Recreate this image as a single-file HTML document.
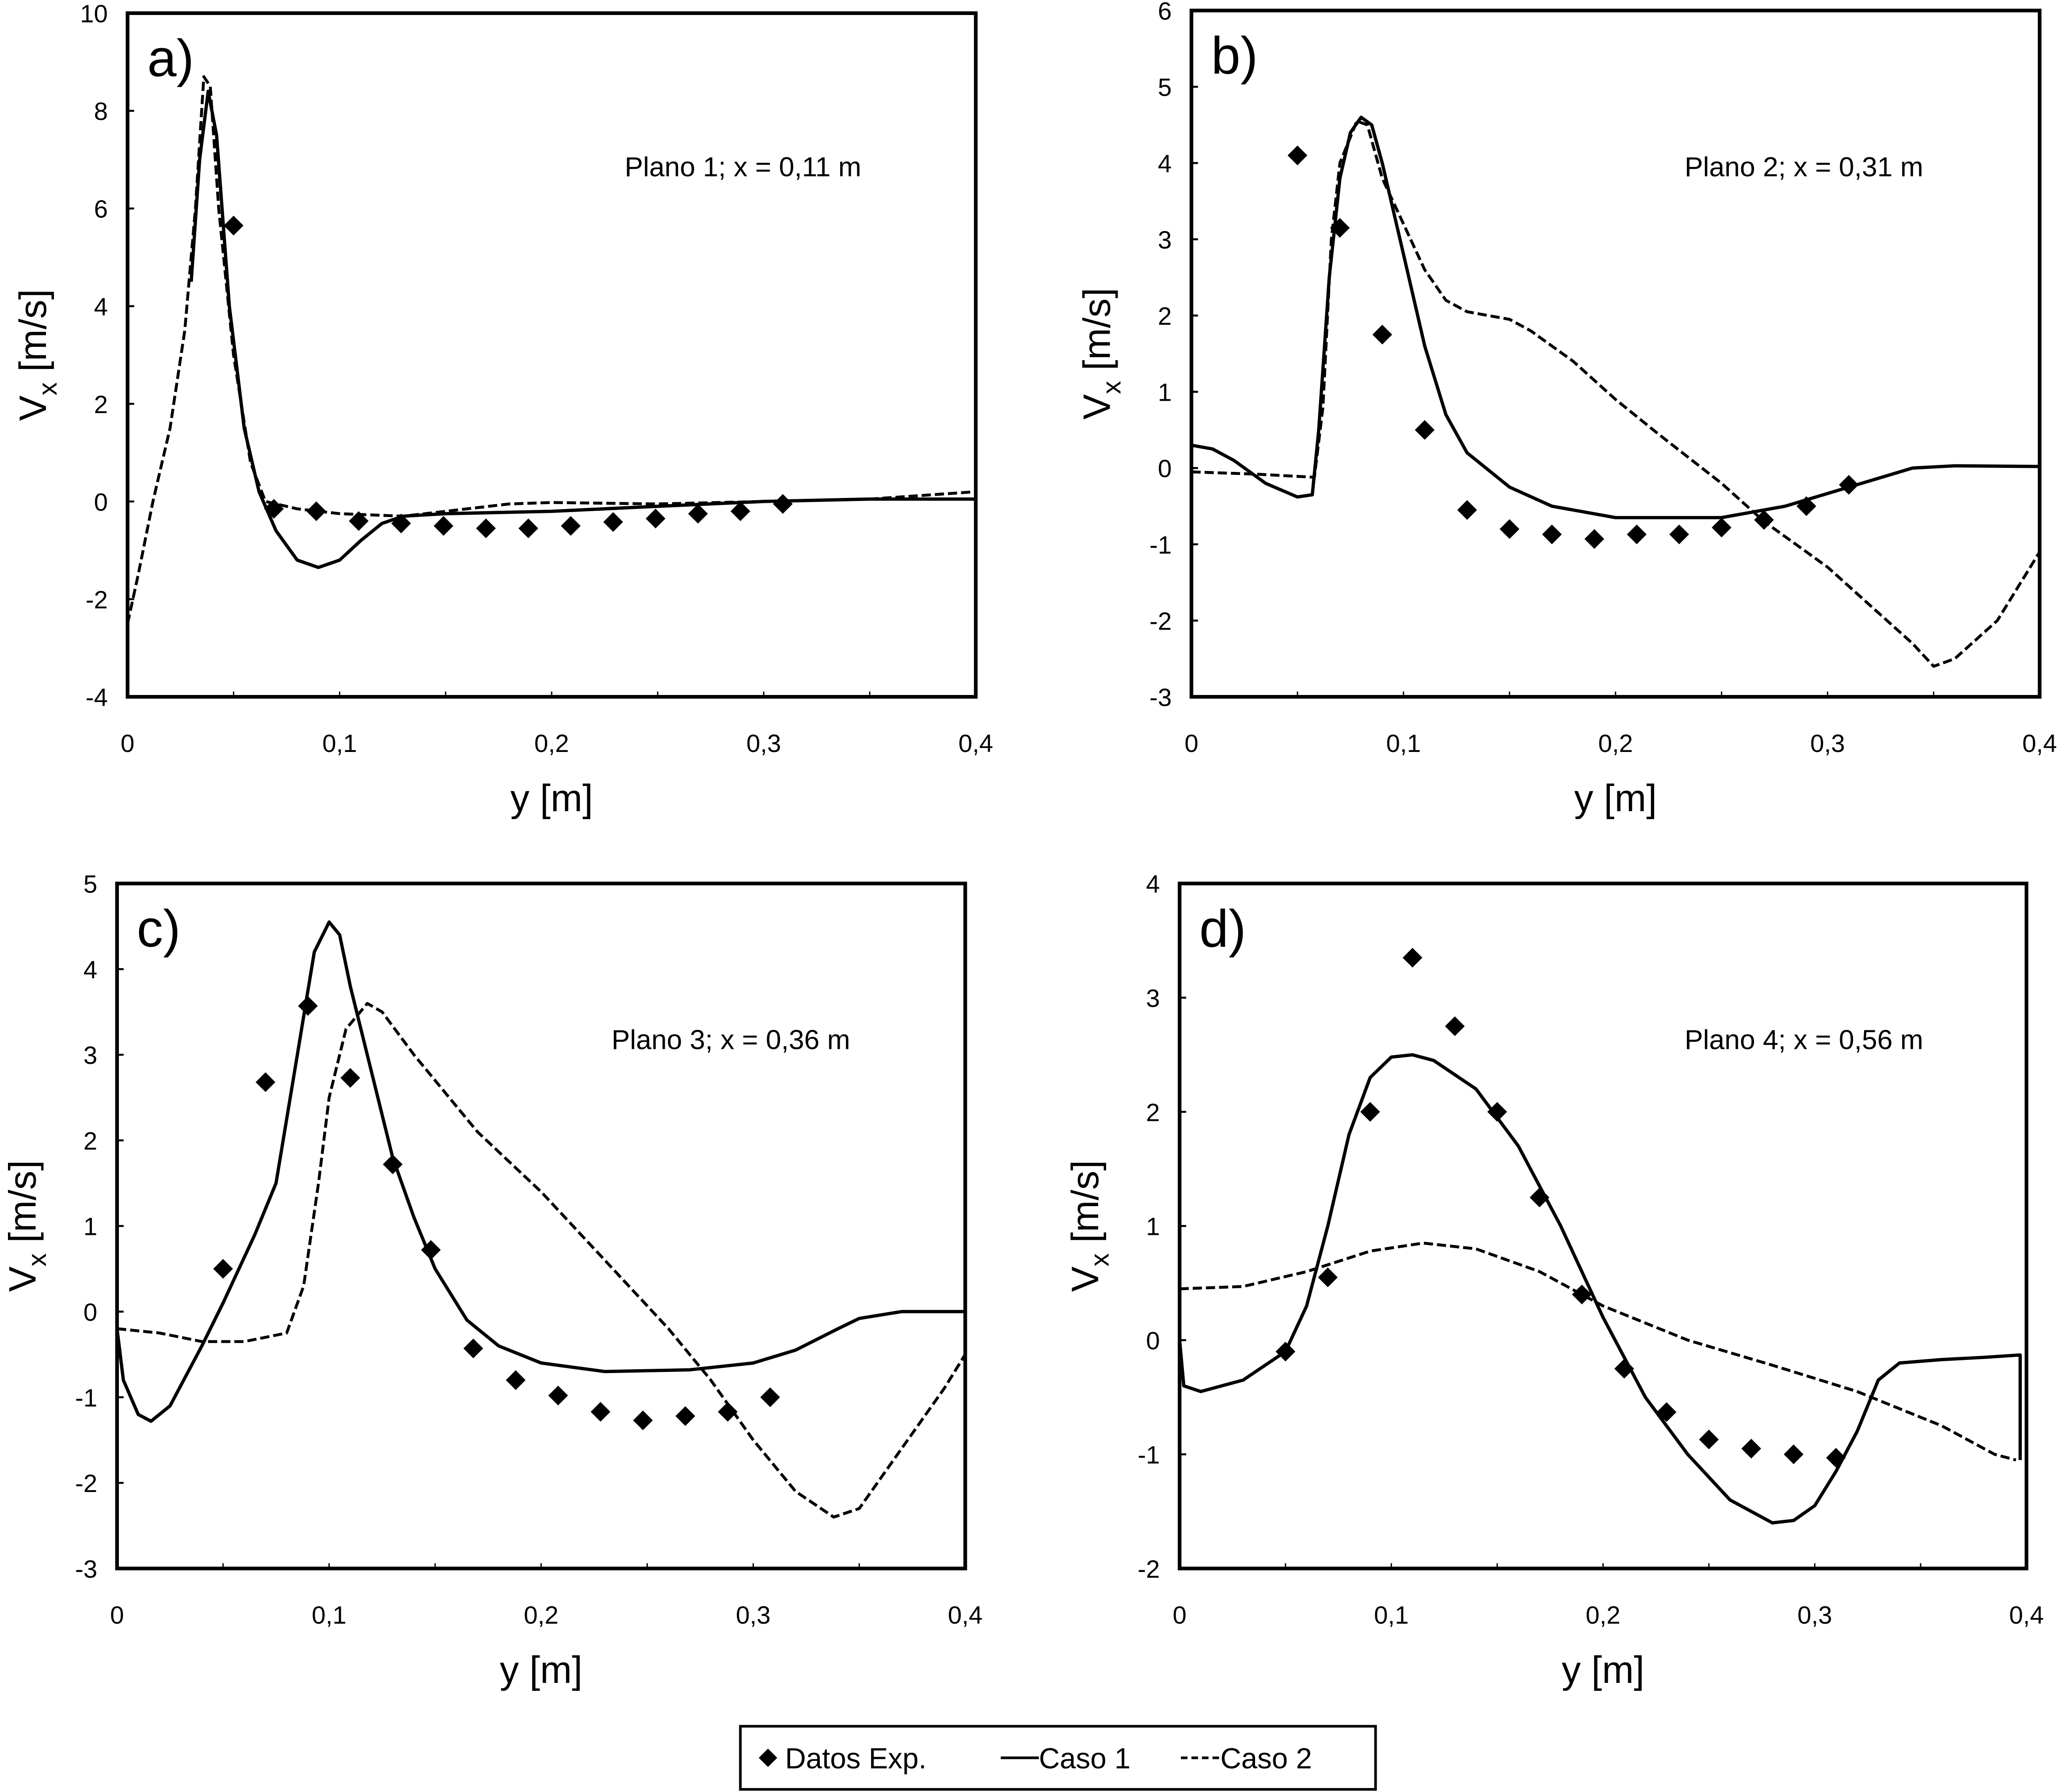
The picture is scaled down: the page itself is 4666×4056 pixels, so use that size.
<!DOCTYPE html>
<html><head><meta charset="utf-8"><style>
html,body{margin:0;padding:0;background:#fff}
svg{display:block}
text{font-family:"Liberation Sans",sans-serif;fill:#000}
</style></head><body>
<svg id="fig" xmlns="http://www.w3.org/2000/svg" width="4666" height="4056" viewBox="0 0 1568 1363">
<rect width="1568" height="1363" fill="#fff"/>
</svg>
<script>
// ---- Panel a data ----
const aExpY=[0.05,0.069,0.089,0.109,0.129,0.149,0.169,0.189,0.209,0.229,0.249,0.269,0.289,0.309];
const aExpV=[5.65,-0.15,-0.2,-0.4,-0.45,-0.5,-0.55,-0.55,-0.5,-0.42,-0.35,-0.25,-0.2,-0.05];
const aC1Y=[0.03,0.034,0.038,0.042,0.048,0.055,0.062,0.07,0.08,0.09,0.1,0.11,0.12,0.13,0.15,0.2,0.25,0.3,0.35,0.4];
const aC1V=[4.5,7,8.4,7.5,4,1.5,0.2,-0.6,-1.2,-1.35,-1.2,-0.8,-0.45,-0.3,-0.25,-0.2,-0.1,0,0.05,0.05];
const aC2Y=[0,0.005,0.012,0.02,0.027,0.032,0.036,0.039,0.043,0.05,0.058,0.065,0.08,0.1,0.13,0.15,0.18,0.2,0.25,0.3,0.35,0.4];
const aC2V=[-2.5,-1.5,0,1.5,3.5,6,8.7,8.5,6,3,0.8,0,-0.15,-0.25,-0.3,-0.2,-0.05,-0.02,-0.05,0,0.05,0.2];
const aTicks=[-4,-2,0,2,4,6,8,10];
// ---- Panel b data ----
const bExpY=[0.05,0.07,0.09,0.11,0.13,0.15,0.17,0.19,0.21,0.23,0.25,0.27,0.29,0.31];
const bExpV=[4.1,3.15,1.75,0.5,-0.55,-0.8,-0.87,-0.93,-0.87,-0.87,-0.78,-0.68,-0.5,-0.22];
const bC1Y=[0,0.01,0.02,0.035,0.05,0.057,0.06,0.065,0.07,0.075,0.08,0.085,0.09,0.1,0.11,0.12,0.13,0.15,0.17,0.2,0.25,0.28,0.31,0.34,0.36,0.4];
const bC1V=[0.3,0.25,0.1,-0.2,-0.38,-0.35,0.5,2.5,3.8,4.4,4.6,4.5,4,2.8,1.6,0.7,0.2,-0.25,-0.5,-0.65,-0.65,-0.5,-0.25,0,0.03,0.02];
const bC2Y=[0,0.03,0.058,0.062,0.066,0.07,0.078,0.083,0.09,0.1,0.11,0.12,0.13,0.15,0.16,0.18,0.2,0.22,0.25,0.27,0.3,0.32,0.34,0.35,0.36,0.38,0.4];
const bC2V=[-0.05,-0.08,-0.12,0.8,3,4,4.55,4.5,3.8,3.2,2.6,2.2,2.05,1.95,1.8,1.4,0.9,0.45,-0.2,-0.7,-1.3,-1.8,-2.3,-2.6,-2.5,-2,-1.1];
const bTicks=[-3,-2,-1,0,1,2,3,4,5,6];
// ---- Panel c data ----
const cExpY=[0.05,0.07,0.09,0.11,0.13,0.148,0.168,0.188,0.208,0.228,0.248,0.268,0.288,0.308];
const cExpV=[0.5,2.68,3.57,2.73,1.72,0.72,-0.43,-0.8,-0.98,-1.17,-1.27,-1.22,-1.17,-1.0];
const cC1Y=[0,0.003,0.01,0.016,0.025,0.04,0.05,0.065,0.075,0.085,0.093,0.1,0.105,0.11,0.12,0.13,0.14,0.15,0.165,0.18,0.2,0.23,0.27,0.3,0.32,0.34,0.35,0.37,0.4];
const cC1V=[-0.2,-0.8,-1.2,-1.28,-1.1,-0.4,0.1,0.9,1.5,3,4.2,4.55,4.4,3.8,2.8,1.8,1.1,0.5,-0.1,-0.4,-0.6,-0.7,-0.68,-0.6,-0.45,-0.2,-0.08,0,0];
const cC2Y=[0,0.02,0.04,0.06,0.08,0.088,0.095,0.1,0.108,0.118,0.125,0.14,0.17,0.2,0.23,0.26,0.28,0.3,0.32,0.338,0.35,0.37,0.39,0.4];
const cC2V=[-0.2,-0.25,-0.35,-0.35,-0.25,0.3,1.5,2.5,3.3,3.6,3.5,3.0,2.1,1.4,0.6,-0.2,-0.8,-1.5,-2.1,-2.4,-2.3,-1.6,-0.9,-0.5];
const cTicks=[-3,-2,-1,0,1,2,3,4,5];
// ---- Panel d data ----
const dExpY=[0.05,0.07,0.09,0.11,0.13,0.15,0.17,0.19,0.21,0.23,0.25,0.27,0.29,0.31];
const dExpV=[-0.1,0.55,2.0,3.35,2.75,2.0,1.25,0.4,-0.25,-0.63,-0.87,-0.95,-1.0,-1.03];
const dC1Y=[0,0.002,0.01,0.03,0.05,0.06,0.07,0.08,0.09,0.1,0.11,0.12,0.14,0.16,0.18,0.2,0.22,0.24,0.26,0.28,0.29,0.3,0.31,0.32,0.33,0.34,0.36,0.38,0.397,0.397];
const dC1V=[0,-0.4,-0.45,-0.35,-0.1,0.3,1.0,1.8,2.3,2.48,2.5,2.45,2.2,1.7,1.0,0.2,-0.5,-1.0,-1.4,-1.6,-1.58,-1.45,-1.15,-0.8,-0.35,-0.2,-0.17,-0.15,-0.13,-1.05];
const dC2Y=[0,0.03,0.06,0.09,0.115,0.14,0.17,0.2,0.24,0.28,0.32,0.36,0.385,0.395];
const dC2V=[0.45,0.47,0.6,0.78,0.85,0.8,0.6,0.3,0,-0.22,-0.45,-0.75,-1.0,-1.05];
const dTicks=[-2,-1,0,1,2,3,4];
const xTicks=[0,0.1,0.2,0.3,0.4];
const xTickLabels=["0","0,1","0,2","0,3","0,4"];

const NS="http://www.w3.org/2000/svg";
const svg=document.getElementById('fig');
function mk(tag,attrs,parent,txt){const e=document.createElementNS(NS,tag);for(const k in attrs)e.setAttribute(k,attrs[k]);if(txt!==undefined)e.textContent=txt;(parent||svg).appendChild(e);return e;}

function panel(cfg){
  const g=mk('g',{});
  
  
  const L=cfg.L,R=cfg.R,T=cfg.T,B=cfg.B;
  const sx=y=>L+(y-0)/(0.4)*(R-L);
  const sy=v=>B-(v-cfg.vmin)/(cfg.vmax-cfg.vmin)*(B-T);
  cfg.ticks.forEach(t=>{
    const tk=mk('line',{x1:L,x2:L+5,y1:sy(t),y2:sy(t),stroke:'#000','stroke-width':1.5},g);
    
    
    const lb=mk('text',{x:L-15,y:sy(t)+7,'text-anchor':'end','font-size':19},g,String(t));
    
    
  });
  for(let i=0;i<=8;i++){
    const x=sx(i*0.05);
    const tk=mk('line',{x1:x,x2:x,y1:B,y2:B-4,stroke:'#000','stroke-width':1},g);
    
    
  }
  xTicks.forEach((t,i)=>{
    const lb=mk('text',{x:sx(t),y:B+42,'text-anchor':'middle','font-size':19},g,xTickLabels[i]);
    
    
  });
  const clipId='clip'+cfg.id;
  const cp=mk('clipPath',{id:clipId},g);mk('rect',{x:L,y:T,width:R-L,height:B-T},cp);
  const pts=(Y,V)=>Y.map((y,i)=>sx(y).toFixed(1)+','+sy(V[i]).toFixed(1)).join(' ');
  const c2=mk('polyline',{points:pts(cfg.c2y,cfg.c2v),fill:'none',stroke:'#000','stroke-width':2.2,'stroke-dasharray':'7,3','stroke-linejoin':'round','clip-path':'url(#'+clipId+')'},g);
  
  
  const c1=mk('polyline',{points:pts(cfg.c1y,cfg.c1v),fill:'none',stroke:'#000','stroke-width':2.5,'stroke-linejoin':'round','clip-path':'url(#'+clipId+')'},g);
  
  
  cfg.ey.forEach((y,i)=>{
    const x=sx(y),yy=sy(cfg.ev[i]),s=7.5;
    const d=mk('polygon',{points:`${x},${yy-s} ${x+s},${yy} ${x},${yy+s} ${x-s},${yy}`,fill:'#000'},g);
    
    
  });
  const fr=mk('rect',{x:L,y:T,width:R-L,height:B-T,fill:'none',stroke:'#000','stroke-width':2.8},g);
  
  
  const pl=mk('text',{x:L+15,y:T+48,'font-size':40},g,cfg.id+')');
  
  
  const pn=mk('text',{x:cfg.planX,y:cfg.planY,'font-size':21},g,cfg.plano);
  
  
  const xt=mk('text',{x:(L+R)/2,y:B+87,'text-anchor':'middle','font-size':29},g,'y [m]');
  
  
  const cy=(T+B)/2;
  const yt=mk('text',{x:0,y:0,'font-size':29,transform:`translate(${L-62},${cy}) rotate(-90)`,'text-anchor':'middle'},g);
  
  
  mk('tspan',{},yt,'V');
  mk('tspan',{'font-size':20,dy:8},yt,'x');
  mk('tspan',{dy:-8},yt,' [m/s]');
}
panel({id:'a',L:97,R:742,T:10,B:530,vmin:-4,vmax:10,ticks:aTicks,ey:aExpY,ev:aExpV,c1y:aC1Y,c1v:aC1V,c2y:aC2Y,c2v:aC2V,plano:'Plano 1; x = 0,11 m',planX:475,planY:134});
panel({id:'b',L:906,R:1551,T:8,B:530,vmin:-3,vmax:6,ticks:bTicks,ey:bExpY,ev:bExpV,c1y:bC1Y,c1v:bC1V,c2y:bC2Y,c2v:bC2V,plano:'Plano 2; x = 0,31 m',planX:1281,planY:134});
panel({id:'c',L:89,R:734,T:672,B:1193,vmin:-3,vmax:5,ticks:cTicks,ey:cExpY,ev:cExpV,c1y:cC1Y,c1v:cC1V,c2y:cC2Y,c2v:cC2V,plano:'Plano 3; x = 0,36 m',planX:465,planY:798});
panel({id:'d',L:897,R:1541,T:672,B:1193,vmin:-2,vmax:4,ticks:dTicks,ey:dExpY,ev:dExpV,c1y:dC1Y,c1v:dC1V,c2y:dC2Y,c2v:dC2V,plano:'Plano 4; x = 0,56 m',planX:1281,planY:798});

const lg=mk('g',{});


mk('rect',{x:563,y:1313,width:483,height:48,fill:'#fff',stroke:'#000','stroke-width':2},lg);
const e1=mk('g',{},lg);


mk('polygon',{points:'584,1330 591,1337 584,1344 577,1337',fill:'#000'},e1);
mk('text',{x:597,y:1345,'font-size':22},e1,'Datos Exp.');
const e2=mk('g',{},lg);


mk('line',{x1:761,x2:790,y1:1337,y2:1337,stroke:'#000','stroke-width':2},e2);
mk('text',{x:790,y:1345,'font-size':22},e2,'Caso 1');
const e3=mk('g',{},lg);


mk('line',{x1:898,x2:928,y1:1337,y2:1337,stroke:'#000','stroke-width':2,'stroke-dasharray':'5,3'},e3);
mk('text',{x:928,y:1345,'font-size':22},e3,'Caso 2');
</script>
</body></html>
